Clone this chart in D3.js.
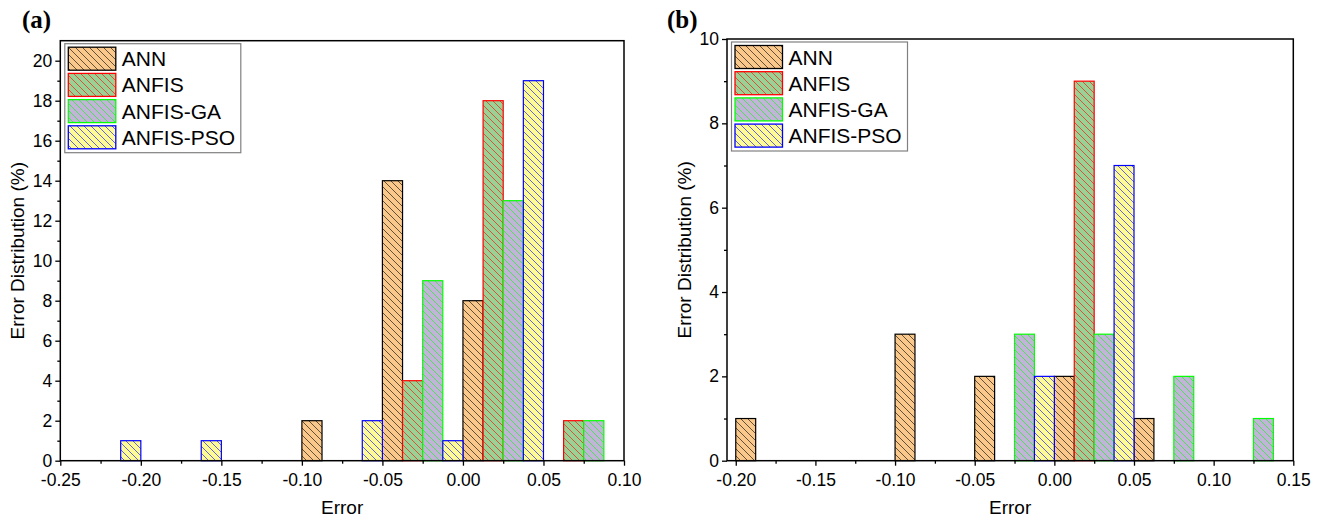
<!DOCTYPE html>
<html>
<head>
<meta charset="utf-8">
<script src="https://cdn.jsdelivr.net/npm/d3@7"></script>
<style>
  body { margin: 0; background: #fff; }
  text { font-family: Arial, "Liberation Sans", sans-serif; fill: #000; }
</style>
</head>
<body>
<svg id="chart" width="1324" height="520"></svg>
<script>
// series names (legend order = bar order inside each 0.05 group)
const seriesNames = ["ANN", "ANFIS", "ANFIS-GA", "ANFIS-PSO"];
const binWidth = 0.0125;

// panel (a): group starts and % per series
const groupsA = [-0.25, -0.20, -0.15, -0.10, -0.05, 0.00, 0.05];
const annA    = [0, 0, 0, 2, 14, 8, 0];
const anfisA  = [0, 0, 0, 0, 4, 18, 2];
const gaA     = [0, 0, 0, 0, 9, 13, 2];
const psoA    = [1, 1, 0, 2, 1, 19, 0];
const xTicksA = [-0.25, -0.20, -0.15, -0.10, -0.05, 0.00, 0.05, 0.10];
const yTicksA = [0, 2, 4, 6, 8, 10, 12, 14, 16, 18, 20];

// panel (b)
const groupsB = [-0.20, -0.15, -0.10, -0.05, 0.00, 0.05, 0.10];
const annB    = [1, 0, 3, 2, 2, 1, 0];
const anfisB  = [0, 0, 0, 0, 9, 0, 0];
const gaB     = [0, 0, 0, 3, 3, 2, 1];
const psoB    = [0, 0, 0, 2, 7, 0, 0];
const xTicksB = [-0.20, -0.15, -0.10, -0.05, 0.00, 0.05, 0.10, 0.15];
const yTicksB = [0, 2, 4, 6, 8, 10];

// look
const fills   = ["#fbc88c", "#9ad194", "#c2b4d8", "#fffb94"];
const strokes = ["#000000", "#ff0000", "#00ff00", "#0000ff"];

const svg = d3.select("#chart");
const defs = svg.append("defs");

// diagonal "\" hatch per series
seriesNames.forEach(function(name, i) {
  const p = defs.append("pattern")
    .attr("id", "hatch" + i)
    .attr("patternUnits", "userSpaceOnUse")
    .attr("width", 7)
    .attr("height", 7);
  p.append("rect").attr("width", 7).attr("height", 7).attr("fill", fills[i]);
  p.append("path")
    .attr("d", "M-1,-1 L8,8 M-1,6 L1,8 M6,-1 L8,1")
    .attr("stroke", strokes[i])
    .attr("stroke-width", 0.6);
});

function fmt(d) {
  let s = (Math.round(d * 100) / 100).toFixed(2);
  return s === "-0.00" ? "0.00" : s;
}

function drawPanel(cfg) {
  const x = d3.scaleLinear().domain(cfg.xDomain).range([cfg.left, cfg.right]);
  const y = d3.scaleLinear().domain(cfg.yDomain).range([cfg.bottom, cfg.top]);
  const g = svg.append("g");

  // bars
  cfg.series.forEach(function(vals, si) {
    const data = cfg.groups.map(function(gx, k) {
      return { x0: gx + si * binWidth, v: vals[k] };
    }).filter(d => d.v > 0);
    g.append("g").selectAll("rect")
      .data(data)
      .enter()
      .append("rect")
      .attr("x", d => x(d.x0))
      .attr("y", d => y(d.v))
      .attr("width", d => x(d.x0 + binWidth) - x(d.x0))
      .attr("height", d => y(0) - y(d.v))
      .attr("fill", "url(#hatch" + si + ")")
      .attr("stroke", strokes[si])
      .attr("stroke-width", 1.2);
  });

  // minor ticks
  const xMinor = cfg.xTicks.slice(0, -1).map((t, i) => (t + cfg.xTicks[i + 1]) / 2);
  const yMinor = cfg.yTicks.slice(0, -1).map((t, i) => (t + cfg.yTicks[i + 1]) / 2);

  g.append("g")
    .attr("transform", "translate(0," + cfg.bottom + ")")
    .call(d3.axisBottom(x).tickValues(xMinor).tickSize(3).tickFormat(""))
    .call(a => a.select(".domain").remove());
  g.append("g")
    .attr("transform", "translate(" + cfg.left + ",0)")
    .call(d3.axisLeft(y).tickValues(yMinor).tickSize(3).tickFormat(""))
    .call(a => a.select(".domain").remove());

  // major ticks
  const xa = g.append("g")
    .attr("transform", "translate(0," + cfg.bottom + ")")
    .call(d3.axisBottom(x).tickValues(cfg.xTicks).tickSize(5).tickPadding(8).tickFormat(fmt));
  xa.select(".domain").remove();
  xa.selectAll("text").style("font-size", "17.5px").style("font-family", "Arial, 'Liberation Sans', sans-serif");

  const ya = g.append("g")
    .attr("transform", "translate(" + cfg.left + ",0)")
    .call(d3.axisLeft(y).tickValues(cfg.yTicks).tickSize(5).tickPadding(3));
  ya.select(".domain").remove();
  ya.selectAll("text").style("font-size", "17.5px").style("font-family", "Arial, 'Liberation Sans', sans-serif");

  g.selectAll(".tick line").attr("stroke", "#000").attr("stroke-width", 1.3);

  // frame
  g.append("rect")
    .attr("x", cfg.left).attr("y", cfg.top)
    .attr("width", cfg.right - cfg.left)
    .attr("height", cfg.bottom - cfg.top)
    .attr("fill", "none")
    .attr("stroke", "#000")
    .attr("stroke-width", 1.5);

  // axis titles
  g.append("text")
    .attr("x", (cfg.left + cfg.right) / 2)
    .attr("y", 514)
    .attr("text-anchor", "middle")
    .style("font-size", "19px")
    .text("Error");
  g.append("text")
    .attr("transform", "translate(" + (cfg.left - 36) + "," + ((cfg.top + cfg.bottom) / 2) + ") rotate(-90)")
    .attr("text-anchor", "middle")
    .style("font-size", "19px")
    .text("Error Distribution (%)");

  // panel label
  g.append("text")
    .attr("x", cfg.labelX)
    .attr("y", 28)
    .style("font-family", "'Liberation Serif', 'Times New Roman', serif")
    .style("font-weight", "bold")
    .style("font-size", "25px")
    .text(cfg.label);

  // legend
  const lx = cfg.left + 4.5, ly = cfg.top + 3;
  const leg = g.append("g");
  leg.append("rect")
    .attr("x", lx).attr("y", ly)
    .attr("width", 176).attr("height", 109)
    .attr("fill", "#fff")
    .attr("stroke", "#808080")
    .attr("stroke-width", 1.2);
  seriesNames.forEach(function(name, i) {
    const ry = ly + 3.5 + i * 26.2;
    leg.append("rect")
      .attr("x", lx + 3.5).attr("y", ry)
      .attr("width", 47.5).attr("height", 23)
      .attr("fill", "url(#hatch" + i + ")")
      .attr("stroke", strokes[i])
      .attr("stroke-width", 1.3);
    leg.append("text")
      .attr("x", lx + 57)
      .attr("y", ry + 19)
      .style("font-size", "21px")
      .text(name);
  });
}

drawPanel({
  label: "(a)", labelX: 22,
  left: 60.3, right: 624, top: 40.7, bottom: 460.7,
  xDomain: [-0.25, 0.10], yDomain: [0, 21],
  xTicks: xTicksA, yTicks: yTicksA,
  groups: groupsA, series: [annA, anfisA, gaA, psoA]
});

drawPanel({
  label: "(b)", labelX: 667,
  left: 727, right: 1293.3, top: 39, bottom: 460.7,
  xDomain: [-0.2055, 0.15], yDomain: [0, 10],
  xTicks: xTicksB, yTicks: yTicksB,
  groups: groupsB, series: [annB, anfisB, gaB, psoB]
});
</script>
</body>
</html>
